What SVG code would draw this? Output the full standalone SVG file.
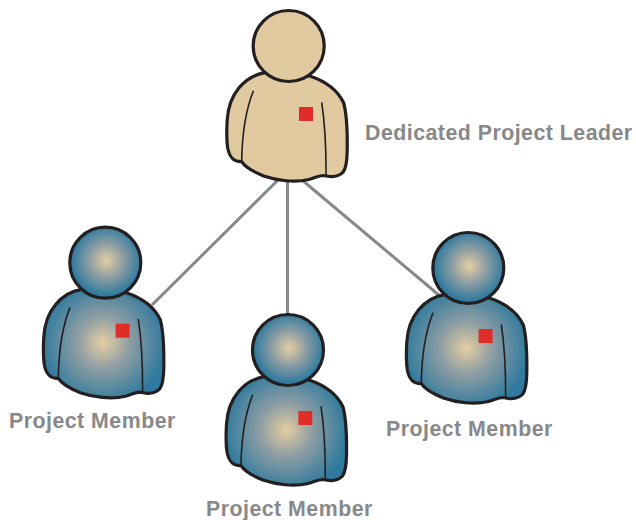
<svg xmlns="http://www.w3.org/2000/svg" width="636" height="520" viewBox="0 0 636 520">
<style>
.conn{stroke:#87888a;stroke-width:3;fill:none}
.o{stroke:#231f20;stroke-width:3.2;stroke-linejoin:round}
.i{stroke:#231f20;stroke-width:1.6;fill:none}
.r{fill:#e12d2a}
.t{font-family:"Liberation Sans",Arial,sans-serif;font-weight:700;font-size:21.3px;letter-spacing:.5px;fill:#87888a}
.lead{fill:#e1caa0}
.bb{fill:url(#gb)}
.bh{fill:url(#gh)}
</style>
<defs>
<radialGradient id="gb" gradientUnits="userSpaceOnUse" cx="-2" cy="80" r="62">
<stop offset="0" stop-color="#e5cea2"/><stop offset=".42" stop-color="#8f9ea3"/><stop offset="1" stop-color="#2f7a9e"/>
</radialGradient>
<radialGradient id="gh" gradientUnits="userSpaceOnUse" cx="1" cy="-2" r="35">
<stop offset="0" stop-color="#e5cea2"/><stop offset=".48" stop-color="#8f9ea3"/><stop offset="1" stop-color="#2f7a9e"/>
</radialGradient>
<path id="body" d="M-23.700 26.700C-44 30-60 48-61.500 74C-62.200 86-62.300 94-61 102C-59 112-55 116-47 115.700C-43 122-35 126-25 130C-12 134.500 6 137 20 133.500C27 131.500 30 129.500 35 129.500C43 131.500 50 131 54.500 126C57.500 122 58.300 116 58.500 105C58.800 85 58.500 70 55 57C49 44 36 35 21 30Z"/>
<path id="inner" d="M-35.300 44.700C-43 64-46.500 84-47 115M33 56.300C36 76 37.500 100 37.300 129.500"/>
</defs>
<g id="connectors">
<line class="conn" x1="278" y1="180" x2="152" y2="305"/>
<line class="conn" x1="287.500" y1="180" x2="287.500" y2="315"/>
<line class="conn" x1="302" y1="180" x2="440" y2="296"/>
</g>
<g id="leader" transform="translate(288.700 46)">
<use href="#body" class="o lead"/><use href="#inner" class="i"/>
<circle r="35.500" class="o lead"/><rect class="r" x="10.300" y="61" width="14" height="14"/>
</g>
<g id="member-1" transform="translate(105.300 262.700)">
<use href="#body" class="o bb"/><use href="#inner" class="i"/>
<circle r="35.500" class="o bh"/><rect class="r" x="10.300" y="61" width="14" height="14"/>
</g>
<g id="member-2" transform="translate(288 350)">
<use href="#body" class="o bb"/><use href="#inner" class="i"/>
<circle r="35.500" class="o bh"/><rect class="r" x="10.300" y="61" width="14" height="14"/>
</g>
<g id="member-3" transform="translate(468.300 268)">
<use href="#body" class="o bb"/><use href="#inner" class="i"/>
<circle r="35.500" class="o bh"/><rect class="r" x="10.300" y="61" width="14" height="14"/>
</g>
<text class="t" x="365" y="140">Dedicated Project Leader</text>
<text class="t" x="9" y="428">Project Member</text>
<text class="t" x="206" y="515.500">Project Member</text>
<text class="t" x="386" y="436">Project Member</text>
</svg>
